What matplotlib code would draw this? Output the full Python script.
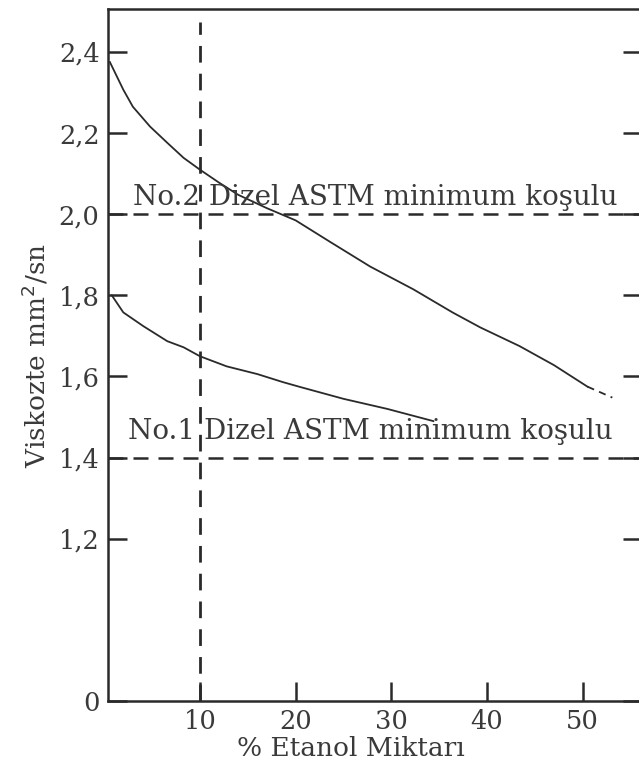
import matplotlib
matplotlib.use('Agg')
import matplotlib.pyplot as plt

plt.rcParams['font.family'] = ['DejaVu Serif']

# No.2 diesel-ethanol blend viscosity (solid part), then dashed extrapolation
etanol_2 = [0.6, 2, 3, 4.8, 6.6, 8.3, 10, 12, 14, 17, 20, 23.6, 27.8, 32.3, 36.4, 39.3, 43.4, 47, 50.5]
visk_2 = [2.375, 2.307, 2.265, 2.216, 2.176, 2.139, 2.11, 2.078, 2.048, 2.015, 1.985, 1.932,
          1.871, 1.815, 1.758, 1.721, 1.675, 1.628, 1.575]
etanol_2_ext = [50.5, 53.1]
visk_2_ext = [1.575, 1.548]

# No.1 diesel-ethanol blend viscosity
etanol_1 = [0.8, 2, 4.1, 6.6, 8.3, 10, 12.8, 16, 18.7, 20.5, 25, 29.6, 34.4]
visk_1 = [1.80, 1.758, 1.724, 1.687, 1.672, 1.65, 1.625, 1.606, 1.586, 1.574, 1.545, 1.52, 1.49]

astm_min = [2.0, 1.4]
astm_text = ["No.2 Dizel ASTM minimum koşulu", "No.1 Dizel ASTM minimum koşulu"]
ref_etanol = 10

yticks = [0.8, 1.2, 1.4, 1.6, 1.8, 2.0, 2.2, 2.4]
ylabels = ["0", "1,2", "1,4", "1,6", "1,8", "2,0", "2,2", "2,4"]
xticks = [10, 20, 30, 40, 50]

ink = "#2a2a2a"
txt = "#3a3a3a"

fig = plt.figure(figsize=(6.39, 7.71), dpi=100)
ax = fig.add_axes([108/639, 70/771, 534/639, 692/771])
ax.set_xlim(0.4, 56.2)
ax.set_ylim(0.8, 2.506)

ax.plot(etanol_2, visk_2, color=ink, lw=1.3)
ax.plot(etanol_2_ext, visk_2_ext, color=ink, lw=1.3, ls=(0, (4, 3)))
ax.plot(etanol_1, visk_1, color=ink, lw=1.3)

dash = (0, (6, 4))
for lvl in astm_min:
    ax.axhline(lvl, color=ink, lw=1.8, ls=dash)
ax.plot([ref_etanol, ref_etanol], [0.8, 2.475], color=ink, lw=2.0, ls=dash)

ax.text(3.0, 2.024, astm_text[0], fontsize=20, color=txt, va='baseline', ha='left')
ax.text(2.5, 1.446, astm_text[1], fontsize=20, color=txt, va='baseline', ha='left')

for s in ax.spines.values():
    s.set_linewidth(1.8)
    s.set_color(ink)

ax.set_yticks(yticks)
ax.set_yticklabels(ylabels)
ax.set_xticks(xticks)
ax.tick_params(axis='both', direction='in', length=14, width=1.8, color=ink,
               labelsize=18.5, labelcolor=txt, pad=6)
ax.tick_params(axis='y', right=True, labelright=False)

ax.set_ylabel("Viskozte mm$^2$/sn", fontsize=19, color=txt, labelpad=6)
ax.set_xlabel("% Etanol Miktarı", fontsize=19, color=txt, labelpad=2)
ax.xaxis.set_label_coords(0.455, -0.05)

fig.savefig("out.png", dpi=100)
